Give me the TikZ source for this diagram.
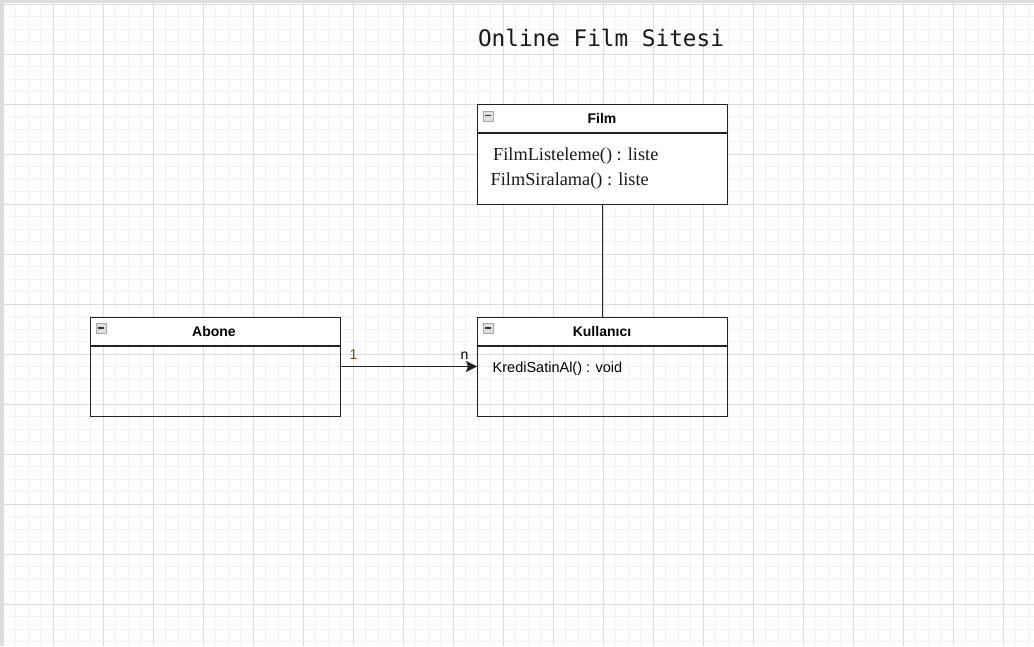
\documentclass[tikz,border=0pt]{standalone}
\usepackage{fontspec}
\setmainfont{Liberation Serif}
\setsansfont{Liberation Sans}
\newfontfamily\monofnt{DejaVu Sans Mono}
\usetikzlibrary{arrows.meta}
\definecolor{gridminor}{HTML}{F2F2F2}
\definecolor{gridmajor}{HTML}{DCDCDC}
\definecolor{boxline}{HTML}{222222}
\definecolor{labelbrown}{HTML}{6E4A00}
\definecolor{framegray}{HTML}{DDDDDD}
\definecolor{iconfill}{HTML}{DEDEDE}
\definecolor{iconline}{HTML}{A8A8A8}
\tikzset{
  umlbox/.style={draw=boxline, line width=1.4pt, anchor=north west, minimum width=250pt, minimum height=100pt, inner sep=0pt},
  header/.style={font=\sffamily\bfseries\fontsize{14}{16}\selectfont, anchor=base},
  method/.style={font=\fontsize{18.3}{21}\selectfont, anchor=base west, inner sep=0pt, text=black!90},
  smethod/.style={font=\sffamily\fontsize{14.5}{16}\selectfont, anchor=base west, inner sep=0pt},
  mult/.style={font=\sffamily\fontsize{14}{16}\selectfont, anchor=base west, inner sep=0pt},
  icon/.style={draw=iconline, fill=iconfill, line width=0.8pt, minimum width=10pt, minimum height=10pt, inner sep=0pt, anchor=north west},
  conn/.style={draw=boxline, line width=1.4pt}
}
\begin{document}
\begin{tikzpicture}[x=1pt,y=-1pt]
\useasboundingbox (0,0) rectangle (1034,646);
\fill[white] (0,0) rectangle (1034,646);
% grid
\foreach \i in {0,...,82} {
  \draw[gridminor, line width=1pt] ({3+12.5*\i},0) -- ({3+12.5*\i},646);
}
\foreach \j in {0,...,51} {
  \draw[gridminor, line width=1pt] (0,{4+12.5*\j}) -- (1034,{4+12.5*\j});
}
\foreach \i in {0,...,20} {
  \draw[gridmajor, line width=1pt] ({3+50*\i},0) -- ({3+50*\i},646);
}
\foreach \j in {0,...,12} {
  \draw[gridmajor, line width=1pt] (0,{4+50*\j}) -- (1034,{4+50*\j});
}
\draw[framegray, line width=2.5pt] (1.25,646) -- (1.25,1.25) -- (1034,1.25);

% title
\node[font=\monofnt\fontsize{22.7}{26}\selectfont, text=black!90, anchor=base] (title) at (601,46) {Online Film Sitesi};

% Film box
\fill[white] (477,104) rectangle (727,204);
\node[umlbox] (film) at (477,104) {};
\draw[conn] (477,133) -- (727,133);
\node[icon] (filmicon) at (483,110.5) {};
\draw[black!80, line width=1.3pt] (485,115.5) -- (491,115.5);
\node[header] (filmname) at (602,123) {Film};
\node[method] (filmm1) at (493,160) {FilmListeleme() : liste};
\node[method] (filmm2) at (490.5,185) {FilmSiralama() : liste};

% Abone box
\fill[white] (90,317) rectangle (340,346);
\node[umlbox, minimum height=99pt] (abone) at (90,317) {};
\draw[conn] (90,346) -- (340,346);
\node[icon] (aboneicon) at (96,323) {};
\draw[black!80, line width=1.3pt] (98,328) -- (104,328);
\node[header] (abonename) at (214,336) {Abone};

% Kullanici box
\fill[white] (477,317) rectangle (727,346);
\node[umlbox, minimum height=99pt] (kul) at (477,317) {};
\draw[conn] (477,346) -- (727,346);
\node[icon] (kulicon) at (483,323) {};
\draw[black!80, line width=1.3pt] (485,328) -- (491,328);
\node[header] (kulname) at (602,336) {Kullanıcı};
\node[smethod] (kulm1) at (492.5,372) {KrediSatinAl() : void};

% connectors
\draw[conn] (film.south) -- (kul.north);
\coordinate (astart) at (abone.east |- 0,366.5);
\coordinate (aend) at (kul.west |- 0,366.5);
\draw[conn, -{Stealth[length=11pt, width=11pt, inset=2pt]}] (astart) -- (aend);
\node[mult, text=labelbrown] (m1) at (349.5,359) {1};
\node[mult] (mn) at (460.5,359) {n};
\end{tikzpicture}
\end{document}
